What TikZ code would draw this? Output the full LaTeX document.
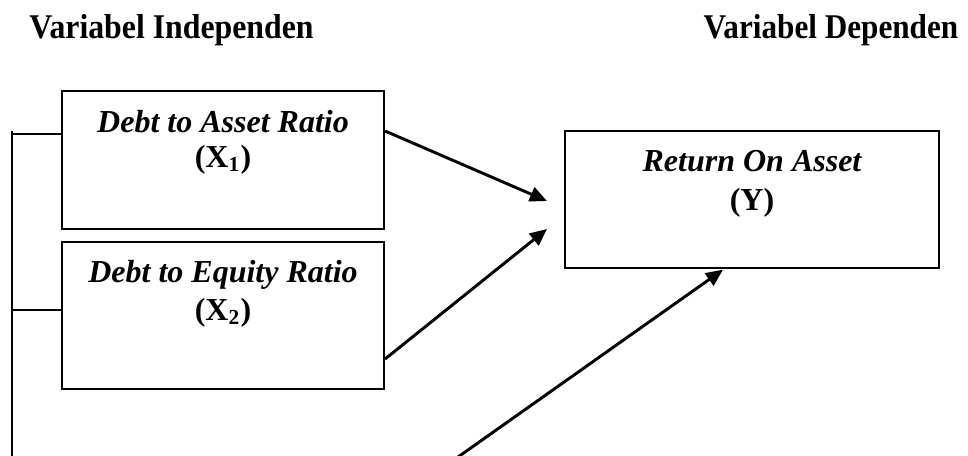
\documentclass[tikz,border=0pt]{standalone}
\usepackage{fontspec}
\setmainfont{Liberation Serif}
\usetikzlibrary{arrows.meta,calc}
\tikzset{
  boxnode/.style={draw=black, line width=0.8pt, minimum width=#1, inner sep=0pt},
  txt/.style={anchor=base, inner sep=0pt, font=\fontsize{12}{14}\selectfont\bfseries\itshape},
  sub/.style={anchor=base, inner sep=0pt, font=\fontsize{12}{14}\selectfont\bfseries},
  title/.style={anchor=base, inner sep=0pt},
  link/.style={line width=0.8pt},
  arr/.style={line width=1.1pt, -{Triangle[length=6.4pt, width=5.6pt]}}
}
\begin{document}
\begin{tikzpicture}[x=0.375pt, y=-0.375pt]
\useasboundingbox (0,0) rectangle (968,455);
% titles
\node[title] (t1) at (171.5,38) {\scalebox{0.917}[1]{\fontsize{13}{15}\selectfont\bfseries Variabel Independen}};
\node[title] (t2) at (831,38) {\scalebox{0.90}[1]{\fontsize{13}{15}\selectfont\bfseries Variabel Dependen}};
% boxes
\node[boxnode=120.75pt, minimum height=51.75pt] (b1) at (223,160) {};
\node[boxnode=120.75pt, minimum height=55.1pt] (b2) at (223,315.5) {};
\node[boxnode=140.25pt, minimum height=51.4pt] (by) at (752,199.5) {};
% texts
\node[txt] (b1a) at (223,132) {Debt to Asset Ratio};
\node[sub] (b1b) at (223,167) {(X\textsubscript{1})};
\node[txt] (b2a) at (223,282) {Debt to Equity Ratio};
\node[sub] (b2b) at (223,320) {(X\textsubscript{2})};
\node[txt] (bya) at (752,171) {Return On Asset};
\node[sub] (byb) at (752,210) {(Y)};
% arrow ends
\coordinate (e1) at (547,201);
\coordinate (e2) at (547,229);
\coordinate (s3) at (439.6,470);
\coordinate (top) at (12,131);
\coordinate (bot) at (12,470);
\coordinate (h1) at (12,134);
\coordinate (h2) at (12,310);
\begin{scope}
\clip (0,0) rectangle (968,455);
\draw[arr] ($(b1.east)+(0,-29)$) -- (e1);
\draw[arr] ($(b2.east)+(0,43.5)$) -- (e2);
\draw[arr] (s3) -- ($(by.south)+(-29,0.6)$);
\draw[link] (top) -- (bot);
\draw[link] (h1) -- (h1 -| b1.west);
\draw[link] (h2) -- (h2 -| b2.west);
\end{scope}
\end{tikzpicture}
\end{document}
